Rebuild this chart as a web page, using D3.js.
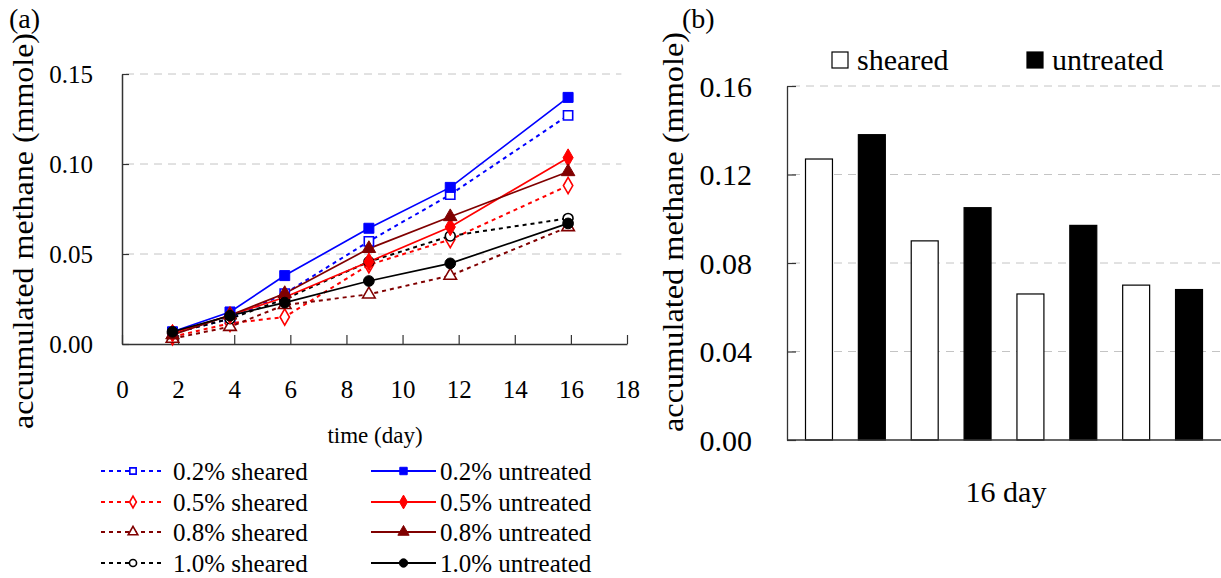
<!DOCTYPE html>
<html>
<head>
<meta charset="utf-8">
<script src="https://cdn.jsdelivr.net/npm/d3@7"></script>
<style>
  html, body { margin: 0; padding: 0; background: #fff; }
  svg text { font-family: "Liberation Serif", "Times New Roman", Times, "Tinos", "DejaVu Serif", "Noto Serif", serif !important; }
</style>
</head>
<body>
<svg id="chart" width="1221" height="578"></svg>
<script>
// ---------- Data ----------
const days = [1.8, 3.85, 5.8, 8.8, 11.7, 15.9];
const xTicks = [0, 2, 4, 6, 8, 10, 12, 14, 16, 18];
const yTicksA = [0, 0.05, 0.10, 0.15];

const sheared02   = [0.006, 0.014, 0.028, 0.057, 0.083, 0.127];
const untreated02 = [0.0068, 0.0178, 0.038, 0.0643, 0.087, 0.137];
const sheared05   = [0.004, 0.0115, 0.015, 0.044, 0.058, 0.088];
const untreated05 = [0.006, 0.016, 0.026, 0.0457, 0.065, 0.1035];
const sheared08   = [0.003, 0.0096, 0.0217, 0.0276, 0.038, 0.065];
const untreated08 = [0.005, 0.016, 0.028, 0.053, 0.0707, 0.0957];
const sheared10   = [0.006, 0.014, 0.025, 0.0457, 0.060, 0.0698];
const untreated10 = [0.0068, 0.0157, 0.023, 0.035, 0.0448, 0.067];

const seriesNames = ["0.2% sheared", "0.5% sheared", "0.8% sheared", "1.0% sheared",
                     "0.2% untreated", "0.5% untreated", "0.8% untreated", "1.0% untreated"];

const barGroups = ["0.2%", "0.5%", "0.8%", "1.0%"];
const shearedDay16   = [0.127, 0.090, 0.066, 0.070];
const untreatedDay16 = [0.138, 0.105, 0.097, 0.068];
const yTicksB = [0, 0.04, 0.08, 0.12, 0.16];

// ---------- Styles ----------
const colors = { "0.2%": "#0000ff", "0.5%": "#ff0000", "0.8%": "#800000", "1.0%": "#000000" };
const symbols = { "0.2%": d3.symbolSquare, "0.5%": d3.symbolDiamond, "0.8%": d3.symbolTriangle, "1.0%": d3.symbolCircle };
const symSize = { "0.2%": 100, "0.5%": 90, "0.8%": 80, "1.0%": 90 };

const series = [
  { name: seriesNames[0], conc: "0.2%", treat: "sheared", values: sheared02 },
  { name: seriesNames[1], conc: "0.5%", treat: "sheared", values: sheared05 },
  { name: seriesNames[2], conc: "0.8%", treat: "sheared", values: sheared08 },
  { name: seriesNames[3], conc: "1.0%", treat: "sheared", values: sheared10 },
  { name: seriesNames[4], conc: "0.2%", treat: "untreated", values: untreated02 },
  { name: seriesNames[5], conc: "0.5%", treat: "untreated", values: untreated05 },
  { name: seriesNames[6], conc: "0.8%", treat: "untreated", values: untreated08 },
  { name: seriesNames[7], conc: "1.0%", treat: "untreated", values: untreated10 }
];

const svg = d3.select("#chart");
const axisColor = "#333";
const gridColor = "#c4c4c4";

// ================= Panel (a) =================
const xA = d3.scaleLinear().domain([0, 18]).range([122, 627]);
const yA = d3.scaleLinear().domain([0, 0.15]).range([344, 74]);

const gA = svg.append("g");

gA.selectAll(".gridA").data(yTicksA.filter(d => d > 0)).join("line")
  .attr("x1", xA(0) + 4).attr("x2", xA(17.8))
  .attr("y1", d => yA(d)).attr("y2", d => yA(d))
  .attr("stroke", gridColor).attr("stroke-width", 1).attr("stroke-dasharray", "8,6");

const xAxisA = d3.axisBottom(xA).tickValues(xTicks).tickSizeInner(-9).tickSizeOuter(0).tickFormat(d3.format("d"));
const gx = gA.append("g").attr("transform", `translate(0,${yA(0)})`).call(xAxisA);
gx.select(".domain").attr("stroke", axisColor).attr("stroke-width", 1.5);
gx.selectAll(".tick line").attr("stroke", axisColor).attr("stroke-width", 1.2);
gx.selectAll(".tick text").attr("font-size", 25).attr("fill", "#000").attr("y", 0).attr("dy", "54px");

const yAxisA = d3.axisLeft(yA).tickValues(yTicksA).tickSizeInner(-7).tickSizeOuter(0).tickFormat(d3.format(".2f"));
const gy = gA.append("g").attr("transform", `translate(${xA(0)},0)`).call(yAxisA);
gy.select(".domain").attr("stroke", axisColor).attr("stroke-width", 1.5);
gy.selectAll(".tick line").attr("stroke", axisColor).attr("stroke-width", 1.2);
gy.selectAll(".tick text").attr("font-size", 25).attr("fill", "#000").attr("x", -29).attr("dy", "0.34em");

const lineGen = d3.line().x((d, i) => xA(days[i])).y(d => yA(d));
series.forEach(s => {
  gA.append("path").datum(s.values)
    .attr("d", lineGen)
    .attr("fill", "none")
    .attr("stroke", colors[s.conc])
    .attr("stroke-width", s.treat === "sheared" ? 2 : 1.7)
    .attr("stroke-dasharray", s.treat === "sheared" ? "4,4" : null);
});
series.forEach(s => {
  gA.selectAll(null).data(s.values).join("path")
    .attr("transform", (d, i) => `translate(${xA(days[i])},${yA(d)})`)
    .attr("d", d3.symbol().type(symbols[s.conc]).size(s.treat === "sheared" ? symSize[s.conc] * 0.85 : symSize[s.conc]))
    .attr("fill", s.treat === "sheared" ? "#fff" : colors[s.conc])
    .attr("stroke", colors[s.conc])
    .attr("stroke-width", s.treat === "sheared" ? 1.6 : 1);
});

gA.append("text").attr("x", 375).attr("y", 443).attr("text-anchor", "middle")
  .attr("font-size", 23).text("time (day)");
gA.append("text").attr("transform", "translate(33,231) rotate(-90)").attr("text-anchor", "middle")
  .attr("font-size", 29).attr("textLength", 396).attr("lengthAdjust", "spacingAndGlyphs")
  .text("accumulated methane (mmole)");
gA.append("text").attr("x", 9).attr("y", 28).attr("font-size", 28).text("(a)");

const legRows = [471, 502, 532, 563];
series.forEach((s, i) => {
  const col = s.treat === "sheared" ? 0 : 1;
  const row = i % 4;
  const x0 = col === 0 ? 101 : 371;
  const x1 = col === 0 ? 165 : 436;
  const xm = (x0 + x1) / 2;
  const y = legRows[row];
  const lg = gA.append("g");
  lg.append("line").attr("x1", x0).attr("x2", x1).attr("y1", y).attr("y2", y)
    .attr("stroke", colors[s.conc]).attr("stroke-width", 2)
    .attr("stroke-dasharray", s.treat === "sheared" ? "4,4" : null);
  lg.append("path").attr("transform", `translate(${xm},${y})`)
    .attr("d", d3.symbol().type(symbols[s.conc]).size(s.treat === "sheared" ? 40 : 55))
    .attr("fill", s.treat === "sheared" ? "#fff" : colors[s.conc])
    .attr("stroke", colors[s.conc]).attr("stroke-width", s.treat === "sheared" ? 1.6 : 1);
  lg.append("text").attr("x", col === 0 ? 173 : 440).attr("y", y + 9)
    .attr("font-size", 25).text(s.name);
});

// ================= Panel (b) =================
const yB = d3.scaleLinear().domain([0, 0.16]).range([440, 86]);
const barKeys = [];
barGroups.forEach(g => { barKeys.push(g + "|sheared"); barKeys.push(g + "|untreated"); });
const xB = d3.scaleBand().domain(barKeys).range([787, 1221]).paddingInner(0.49).paddingOuter(0.35);

const gB = svg.append("g");

gB.selectAll(".gridB").data(yTicksB.filter(d => d > 0)).join("line")
  .attr("x1", 792).attr("x2", 1221)
  .attr("y1", d => yB(d)).attr("y2", d => yB(d))
  .attr("stroke", gridColor).attr("stroke-width", 1).attr("stroke-dasharray", "8,6");

const barData = [];
barGroups.forEach((g, i) => {
  barData.push({ key: g + "|sheared", value: shearedDay16[i], treat: "sheared" });
  barData.push({ key: g + "|untreated", value: untreatedDay16[i], treat: "untreated" });
});
gB.selectAll(".bar").data(barData).join("rect")
  .attr("x", d => xB(d.key)).attr("width", xB.bandwidth())
  .attr("y", d => yB(d.value)).attr("height", d => yB(0) - yB(d.value))
  .attr("fill", d => d.treat === "sheared" ? "#fff" : "#000")
  .attr("stroke", "#000").attr("stroke-width", 1.2);

const yAxisB = d3.axisLeft(yB).tickValues(yTicksB).tickSizeInner(-9).tickSizeOuter(0).tickFormat(d3.format(".2f"));
const gyB = gB.append("g").attr("transform", "translate(787,0)").call(yAxisB);
gyB.select(".domain").attr("stroke", axisColor).attr("stroke-width", 1.3);
gyB.selectAll(".tick line").attr("stroke", axisColor).attr("stroke-width", 1.2);
gyB.selectAll(".tick text").attr("font-size", 30).attr("fill", "#000").attr("x", -35).attr("dy", "0.34em");

gB.append("line").attr("x1", 787).attr("x2", 1221).attr("y1", yB(0)).attr("y2", yB(0))
  .attr("stroke", axisColor).attr("stroke-width", 1.5);

gB.append("text").attr("x", 1006).attr("y", 502).attr("text-anchor", "middle")
  .attr("font-size", 30).text("16 day");
gB.append("text").attr("transform", "translate(683,232) rotate(-90)").attr("text-anchor", "middle")
  .attr("font-size", 30).attr("textLength", 400).attr("lengthAdjust", "spacingAndGlyphs")
  .text("accumulated methane (mmole)");
gB.append("text").attr("x", 682).attr("y", 28).attr("font-size", 28).text("(b)");

const legB = [{ label: "sheared", fill: "#fff", x: 832 }, { label: "untreated", fill: "#000", x: 1027 }];
legB.forEach(l => {
  gB.append("rect").attr("x", l.x).attr("y", 52).attr("width", 16).attr("height", 16)
    .attr("fill", l.fill).attr("stroke", "#000").attr("stroke-width", 1.2);
  gB.append("text").attr("x", l.x + 25).attr("y", 70).attr("font-size", 30).text(l.label);
});
</script>
</body>
</html>
